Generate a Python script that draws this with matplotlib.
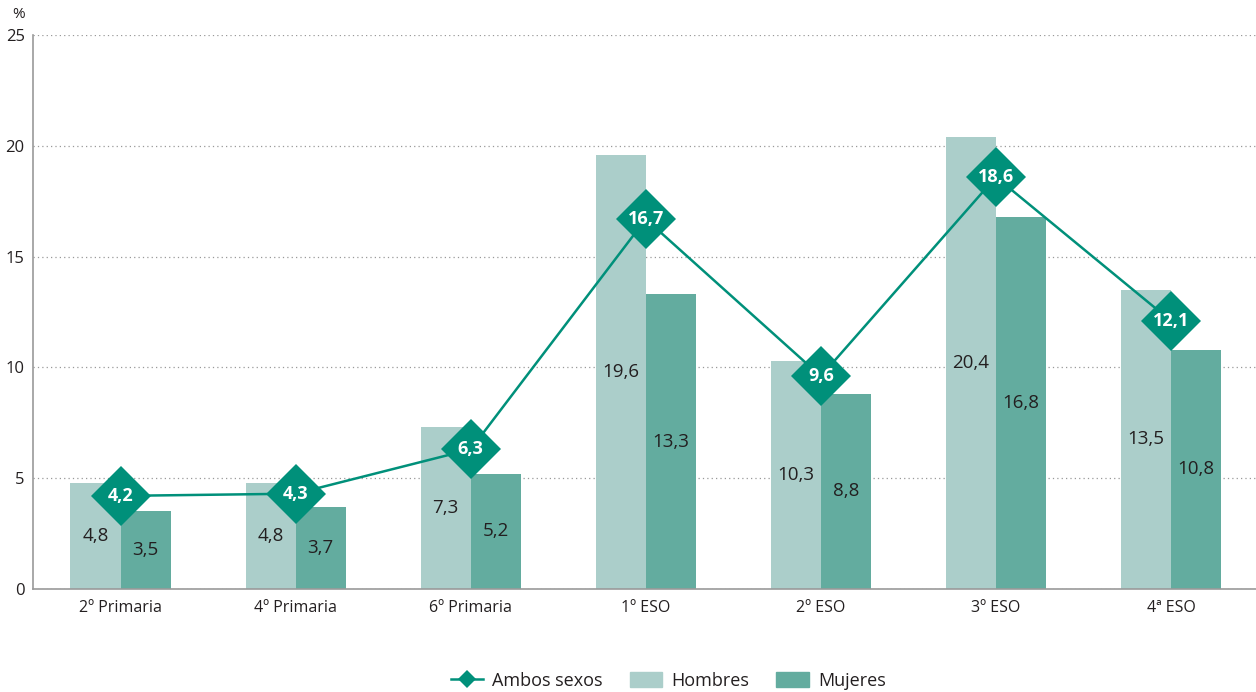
import matplotlib
matplotlib.use("Agg")
import matplotlib.pyplot as plt
from matplotlib.lines import Line2D
from matplotlib.patches import Patch
import numpy as np

plt.rcParams['font.family'] = ['Open Sans', 'DejaVu Sans']

cursos = ["2º Primaria", "4º Primaria", "6º Primaria", "1º ESO", "2º ESO", "3º ESO", "4ª ESO"]
hombres = [4.8, 4.8, 7.3, 19.6, 10.3, 20.4, 13.5]
mujeres = [3.5, 3.7, 5.2, 13.3, 8.8, 16.8, 10.8]
ambos = [4.2, 4.3, 6.3, 16.7, 9.6, 18.6, 12.1]

COL_H = "#abceca"
COL_M = "#63ac9f"
COL_A = "#00907a"
TXT = "#231f20"

def fmt(v):
    return ("%.1f" % v).replace(".", ",")

fig = plt.figure(figsize=(12.56, 6.92), dpi=100)
ax = fig.add_axes([0.0263, 0.149, 0.9757, 0.8])

x = np.arange(len(cursos))
w = 0.286
bh = ax.bar(x - w / 2, hombres, w, color=COL_H, zorder=2)
bm = ax.bar(x + w / 2, mujeres, w, color=COL_M, zorder=2)

# etiquetas en mitad de cada barra
for xi, v in zip(x, hombres):
    ax.text(xi - w / 2, v / 2, fmt(v), ha="center", va="center", fontsize=13.5, color=TXT, zorder=3)
for xi, v in zip(x, mujeres):
    ax.text(xi + w / 2, v / 2, fmt(v), ha="center", va="center", fontsize=13.5, color=TXT, zorder=3)

ax.plot(x, ambos, color=COL_A, lw=1.8, marker="D", markersize=31, markeredgewidth=0, zorder=4)
for xi, v in zip(x, ambos):
    ax.text(xi, v, fmt(v), ha="center", va="center", fontsize=13, color="white",
            fontweight="bold", zorder=5)

ax.set_xlim(-0.5, 6.5)
ax.set_ylim(0, 25)
ax.set_yticks(range(0, 26, 5))
ax.yaxis.grid(True, linestyle=(0, (1, 2.5)), color="#999999", lw=0.9, zorder=0)
ax.set_axisbelow(True)
for s in ["top", "right"]:
    ax.spines[s].set_visible(False)
ax.spines["left"].set_color("#9a9a9a")
ax.spines["bottom"].set_color("#9a9a9a")
ax.spines["left"].set_linewidth(1.2)
ax.spines["bottom"].set_linewidth(1.2)
ax.set_xticks(x)
ax.set_xticklabels(cursos, fontsize=11.5, color=TXT)
ax.tick_params(axis="x", length=0, pad=8)
ax.tick_params(axis="y", length=0, pad=6, labelsize=12, labelcolor=TXT)

fig.text(0.0145, 0.979, "%", fontsize=11, color=TXT, ha="center", va="center")

handles = [
    Line2D([0], [0], color=COL_A, lw=1.8, marker="D", markersize=9, markeredgewidth=0),
    Patch(color=COL_H),
    Patch(color=COL_M),
]
fig.legend(handles, ["Ambos sexos", "Hombres", "Mujeres"], loc="center",
           bbox_to_anchor=(0.532, 0.016), ncol=3, frameon=False, fontsize=13,
           handlelength=1.8, handleheight=0.85, columnspacing=1.5, handletextpad=0.5,
           labelcolor=TXT)

fig.savefig("out.png", dpi=100)
